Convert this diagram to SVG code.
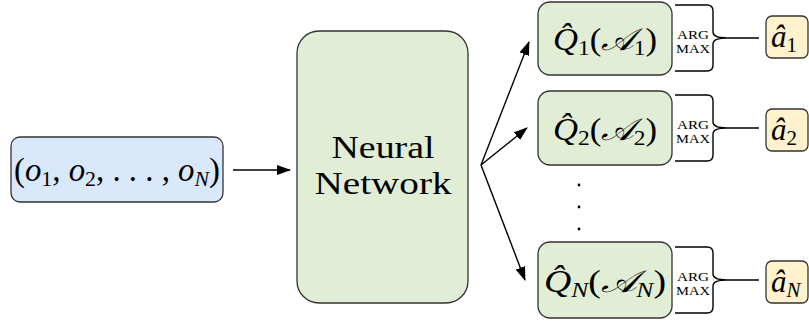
<svg xmlns="http://www.w3.org/2000/svg" width="809" height="326" viewBox="0 0 809 326">
<defs>
<style>
.box{stroke:#333;stroke-width:1.3}
.blue{fill:#dae8fc}
.green{fill:#e1edd5}
.yellow{fill:#fff2cc}
.t{font-family:"Liberation Serif","DejaVu Serif",serif;fill:#000}
.m{font-family:"Liberation Serif","DejaVu Serif",serif;font-style:italic;fill:#000}
.ln{stroke:#000;stroke-width:1.4;fill:none}
.am{font-family:"Liberation Serif","DejaVu Serif",serif;font-size:12px;fill:#000}
</style>
<marker id="ah" viewBox="0 0 14 10" refX="13" refY="5" markerWidth="14" markerHeight="10" markerUnits="userSpaceOnUse" orient="auto">
<path d="M0,0 L14,5 L0,10 Z" fill="#000"/>
</marker>
<path id="brace" d="M0,-33 H32 Q38,-33 38,-27 V-6 Q38,0 52,0 Q38,0 38,6 V27 Q38,33 32,33 H0 M52,0 H84"/>
</defs>
<rect width="809" height="326" fill="#fff"/>

<g id="input">
<rect class="box blue" x="11" y="137" width="212" height="65" rx="9"/>
<text class="t" x="117" y="181" font-size="33" text-anchor="middle" textLength="206" lengthAdjust="spacingAndGlyphs">(<tspan class="m">o</tspan><tspan font-size="22" dy="5">1</tspan><tspan dy="-5">, </tspan><tspan class="m">o</tspan><tspan font-size="22" dy="5">2</tspan><tspan dy="-5">, . . . , </tspan><tspan class="m">o</tspan><tspan class="m" font-size="22" dy="5">N</tspan><tspan dy="-5">)</tspan></text>
</g>

<g id="nn">
<rect class="box green" x="297" y="31" width="171" height="272" rx="22"/>
<text class="t" x="383" y="158" font-size="32" text-anchor="middle" textLength="103" lengthAdjust="spacingAndGlyphs">Neural</text>
<text class="t" x="383" y="194" font-size="32" text-anchor="middle" textLength="137" lengthAdjust="spacingAndGlyphs">Network</text>
</g>

<g id="q1">
<rect class="box green" x="538" y="2" width="134" height="73" rx="12"/>
<text class="t" x="605" y="50" font-size="31" text-anchor="middle" textLength="104" lengthAdjust="spacingAndGlyphs"><tspan class="m">Q̂</tspan><tspan font-size="21" dy="5">1</tspan><tspan dy="-5">(</tspan><tspan class="m">𝒜</tspan><tspan font-size="21" dy="5">1</tspan><tspan dy="-5">)</tspan></text>
</g>
<g id="q2">
<rect class="box green" x="538" y="91" width="134" height="74" rx="12"/>
<text class="t" x="605" y="140" font-size="31" text-anchor="middle" textLength="104" lengthAdjust="spacingAndGlyphs"><tspan class="m">Q̂</tspan><tspan font-size="21" dy="5">2</tspan><tspan dy="-5">(</tspan><tspan class="m">𝒜</tspan><tspan font-size="21" dy="5">2</tspan><tspan dy="-5">)</tspan></text>
</g>
<g id="qN">
<rect class="box green" x="538" y="242" width="134" height="76" rx="12"/>
<text class="t" x="605" y="292" font-size="31" text-anchor="middle" textLength="122" lengthAdjust="spacingAndGlyphs"><tspan class="m">Q̂</tspan><tspan class="m" font-size="21" dy="5">N</tspan><tspan dy="-5">(</tspan><tspan class="m">𝒜</tspan><tspan class="m" font-size="21" dy="5">N</tspan><tspan dy="-5">)</tspan></text>
</g>

<g id="dots" fill="#000">
<circle cx="579" cy="185" r="1.4"/>
<circle cx="579" cy="207" r="1.4"/>
<circle cx="579" cy="229" r="1.4"/>
</g>

<g id="a1">
<rect class="box yellow" x="766" y="16" width="42" height="42" rx="6"/>
<text class="m" x="771" y="47" font-size="31">â<tspan font-style="normal" font-size="21" dy="5">1</tspan></text>
</g>
<g id="a2">
<rect class="box yellow" x="766" y="109" width="42" height="42" rx="6"/>
<text class="m" x="771" y="140" font-size="31">â<tspan font-style="normal" font-size="21" dy="5">2</tspan></text>
</g>
<g id="aN">
<rect class="box yellow" x="766" y="261" width="42" height="42" rx="6"/>
<text class="m" x="771" y="292" font-size="31">â<tspan font-size="21" dy="5">N</tspan></text>
</g>

<g id="argmax">
<text class="am" x="693" y="39" text-anchor="middle" textLength="32" lengthAdjust="spacingAndGlyphs">ARG</text>
<text class="am" x="693" y="53" text-anchor="middle" textLength="34" lengthAdjust="spacingAndGlyphs">MAX</text>
<text class="am" x="693" y="129" text-anchor="middle" textLength="32" lengthAdjust="spacingAndGlyphs">ARG</text>
<text class="am" x="693" y="143" text-anchor="middle" textLength="34" lengthAdjust="spacingAndGlyphs">MAX</text>
<text class="am" x="693" y="281" text-anchor="middle" textLength="32" lengthAdjust="spacingAndGlyphs">ARG</text>
<text class="am" x="693" y="295" text-anchor="middle" textLength="34" lengthAdjust="spacingAndGlyphs">MAX</text>
</g>

<g id="connectors">
<line class="ln" x1="233" y1="170" x2="290" y2="170" marker-end="url(#ah)"/>
<line class="ln" x1="481" y1="165" x2="529" y2="42" marker-end="url(#ah)"/>
<line class="ln" x1="481" y1="165" x2="527" y2="128" marker-end="url(#ah)"/>
<line class="ln" x1="481" y1="165" x2="525" y2="280" marker-end="url(#ah)"/>
<use href="#brace" class="ln" transform="translate(675,38)"/>
<use href="#brace" class="ln" transform="translate(675,128)"/>
<use href="#brace" class="ln" transform="translate(675,280)"/>
</g>
</svg>
